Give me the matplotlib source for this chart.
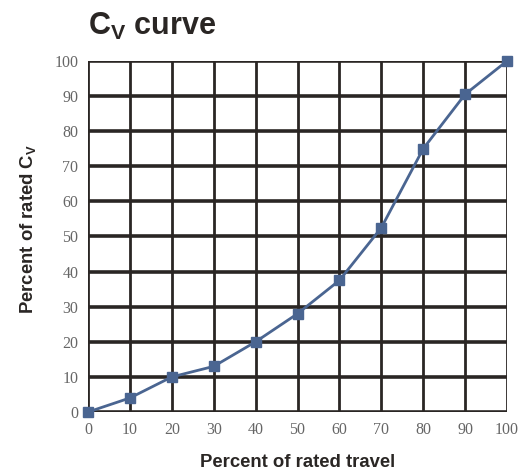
import matplotlib
matplotlib.use("Agg")
from matplotlib import pyplot as plt

travel = [0, 10, 20, 30, 40, 50, 60, 70, 80, 90, 100]
cv = [0, 4, 10, 13, 20, 28, 37.5, 52.5, 75, 90.5, 100]
ticks = [0, 10, 20, 30, 40, 50, 60, 70, 80, 90, 100]

fig = plt.figure(figsize=(5.29, 4.72), dpi=100)
ax = fig.add_axes([0.1664, 0.1271, 0.792, 0.7437])

ax.set_xlim(0, 100)
ax.set_ylim(0, 100)
ax.set_xticks(ticks)
ax.set_yticks(ticks)
for t in ticks:
    ax.axhline(t, color="#2a2624", lw=2.6, zorder=1)
    ax.axvline(t, color="#2a2624", lw=2.0, zorder=1)
for s in ax.spines.values():
    s.set_visible(False)

ax.plot(travel, cv, color="#4a6591", lw=2, marker="s", markersize=6.5, zorder=3, clip_on=False)

ax.tick_params(length=0, pad=7, labelsize=11.5, labelcolor="#666666")
for lab in ax.get_xticklabels() + ax.get_yticklabels():
    lab.set_family("Liberation Serif")

ax.set_xlabel("Percent of rated travel", fontsize=13.3, fontweight="bold",
              family="Liberation Sans", color="#2a2624", labelpad=12)
ax.set_ylabel("Percent of rated C$_\\mathregular{V}$", fontsize=13.3, fontweight="bold",
              family="Liberation Sans", color="#2a2624", va="center")
ax.yaxis.set_label_coords(-0.143, 0.52)

fig.text(0.166, 1 - 35 / 472, "C$_\\mathregular{V}$ curve", fontsize=22, fontweight="bold",
         family="Liberation Sans", color="#2a2624", va="baseline")

fig.savefig("out.png", dpi=100)
